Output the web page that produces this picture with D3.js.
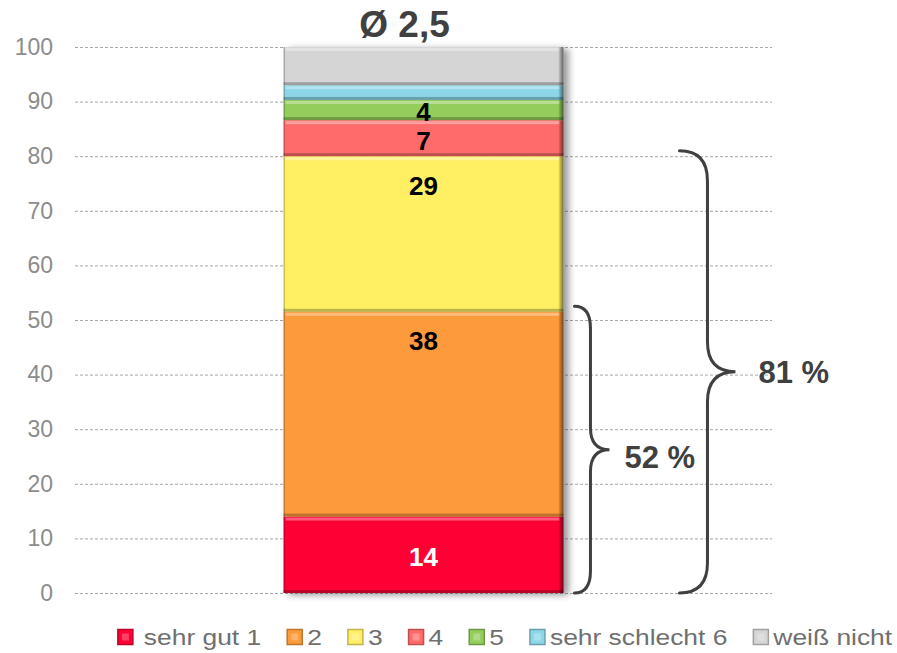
<!DOCTYPE html>
<html>
<head>
<meta charset="utf-8">
<script src="https://cdn.jsdelivr.net/npm/d3@7"></script>
<style>
  html, body { margin: 0; padding: 0; background: #fff; }
  svg { display: block; font-family: "Liberation Sans", Arial, sans-serif; }
</style>
</head>
<body>
<div id="chart"></div>
<script>
// Values (percent); labels shown only for the first five
const categories = ["sehr gut 1", "2", "3", "4", "5", "sehr schlecht 6", "weiß nicht"];
const values = [14, 37.5, 28.5, 6.6, 3.7, 2.7, 7.0];
const showLabel = [true, true, true, true, true, false, false];
const colors = ["#ff0035", "#fd9a3a", "#fff064", "#ff6b6b", "#94cd5c", "#8dd6e8", "#d5d5d5"];
const yTicks = [0, 10, 20, 30, 40, 50, 60, 70, 80, 90, 100];
const title = "Ø 2,5";
// Braces: range [from, to] and caption
const braces = [
  { from: 0, to: 52.5, label: "52 %" },
  { from: 0, to: 81, label: "81 %" }
];

const width = 897, height = 653;
const svg = d3.select("#chart").append("svg")
  .attr("width", width)
  .attr("height", height);

const defs = svg.append("defs");
const shadow = defs.append("filter").attr("id", "shadow")
  .attr("x", "-10%").attr("y", "-10%").attr("width", "130%").attr("height", "125%");
shadow.append("feDropShadow")
  .attr("dx", 5).attr("dy", 2).attr("stdDeviation", 3.5)
  .attr("flood-color", "#000").attr("flood-opacity", 0.4);

// right edge darkening
const edge = defs.append("linearGradient").attr("id", "edgeR").attr("x1", 0).attr("x2", 1);
edge.append("stop").attr("offset", 0).attr("stop-color", "#000").attr("stop-opacity", 0.05);
edge.append("stop").attr("offset", 1).attr("stop-color", "#000").attr("stop-opacity", 0.55);

const y = d3.scaleLinear().domain([0, 100]).range([593, 47]);
const x = d3.scaleBand().domain(["all"]).range([75, 772])
  .paddingInner(0).paddingOuter(0.745);

// Gridlines (dotted)
svg.append("g")
  .selectAll("line")
  .data(yTicks)
  .join("line")
  .attr("x1", 75).attr("x2", 772)
  .attr("y1", d => y(d) + 0.5).attr("y2", d => y(d) + 0.5)
  .attr("stroke", "#a6a6a6")
  .attr("stroke-width", 1)
  .attr("stroke-dasharray", "3,2");

// Y axis labels
const yAxis = svg.append("g")
  .attr("transform", "translate(53,0)")
  .call(d3.axisLeft(y).tickValues(yTicks).tickSize(0).tickPadding(0));
yAxis.select(".domain").remove();
yAxis.selectAll("text")
  .style("font-size", "23px")
  .style("font-family", "'Liberation Sans', Arial, sans-serif")
  .attr("fill", "#8c8c8c");

// Stack
let acc = 0;
const segs = values.map((v, i) => {
  const s = { cat: categories[i], v, y0: acc, y1: acc + v, color: colors[i], label: showLabel[i] };
  acc += v;
  return s;
});

const bx = x("all"), bw = x.bandwidth();
const bar = svg.append("g").attr("filter", "url(#shadow)");
const seg = bar.selectAll("g.seg").data(segs).join("g").attr("class", "seg");

seg.append("rect")
  .attr("x", bx)
  .attr("y", d => y(d.y1))
  .attr("width", bw)
  .attr("height", d => y(d.y0) - y(d.y1))
  .attr("fill", d => d.color);
// top highlight
seg.append("rect")
  .attr("x", bx + 2)
  .attr("y", d => y(d.y1) + 1)
  .attr("width", bw - 6)
  .attr("height", 3)
  .attr("fill", "#fff").attr("opacity", 0.35);
// bottom shade
seg.append("rect")
  .attr("x", bx)
  .attr("y", d => y(d.y0) - 3)
  .attr("width", bw)
  .attr("height", 3)
  .attr("fill", "#000").attr("opacity", 0.25);
// right bevel
seg.append("rect")
  .attr("x", bx + bw - 5)
  .attr("y", d => y(d.y1))
  .attr("width", 5)
  .attr("height", d => y(d.y0) - y(d.y1))
  .attr("fill", "url(#edgeR)");
// left edge
seg.append("rect")
  .attr("x", bx)
  .attr("y", d => y(d.y1))
  .attr("width", 1.5)
  .attr("height", d => y(d.y0) - y(d.y1))
  .attr("fill", "#000").attr("opacity", 0.2);

// Value labels: centred in short segments, near the top of tall ones
svg.append("g")
  .selectAll("text")
  .data(segs.filter(d => d.label))
  .join("text")
  .attr("x", bx + bw / 2)
  .attr("y", d => {
    const top = y(d.y1), bot = y(d.y0);
    return (bot - top) < 100 ? (top + bot) / 2 + 2 : top + 29;
  })
  .attr("dy", "0.36em")
  .attr("text-anchor", "middle")
  .style("font-size", "26px")
  .style("font-weight", "bold")
  .attr("fill", (d, i) => i === 0 ? "#fff" : "#000")
  .text(d => Math.round(d.v));

// Title
svg.append("text")
  .attr("x", bx + bw / 2 - 19)
  .attr("y", 37)
  .attr("text-anchor", "middle")
  .style("font-size", "37px")
  .style("font-weight", "bold")
  .attr("fill", "#404040")
  .text(title);

// Curly braces
function bracePath(x0, x1, x2, yTop, yBot, r) {
  const mid = (yTop + yBot) / 2;
  return `M${x0},${yTop} Q${x1},${yTop} ${x1},${yTop + r} L${x1},${mid - r} ` +
    `Q${x1},${mid} ${x2},${mid} Q${x1},${mid} ${x1},${mid + r} ` +
    `L${x1},${yBot - r} Q${x1},${yBot} ${x0},${yBot}`;
}
const braceGeo = [
  { x0: bx + bw + 11, x1: bx + bw + 27, x2: bx + bw + 46, r: 22, tx: bx + bw + 61 },
  { x0: bx + bw + 116, x1: bx + bw + 144, x2: bx + bw + 172, r: 30, tx: bx + bw + 195 }
];
braces.forEach((b, i) => {
  const g = braceGeo[i];
  const yTop = y(b.to), yBot = y(b.from);
  svg.append("path")
    .attr("d", bracePath(g.x0, g.x1, g.x2, yTop, yBot, g.r))
    .attr("fill", "none")
    .attr("stroke", "#404040")
    .attr("stroke-width", 3)
    .attr("stroke-linecap", "round");
  svg.append("text")
    .attr("x", g.tx)
    .attr("y", (yTop + yBot) / 2 + (i === 0 ? 7 : 0))
    .attr("dy", "0.36em")
    .style("font-size", "31px")
    .style("font-weight", "bold")
    .attr("fill", "#404040")
    .text(b.label);
});

// Legend
const legend = svg.append("g").attr("transform", "translate(0,637)");
const sq = 15, stretch = 1.2;
const items = legend.selectAll("g").data(categories).join("g");
items.append("rect")
  .attr("width", sq).attr("height", sq)
  .attr("y", -sq / 2)
  .attr("fill", (d, i) => colors[i])
  .attr("stroke", (d, i) => d3.color(colors[i]).darker(0.8))
  .attr("stroke-width", 1.5);
items.append("rect")
  .attr("x", 4).attr("y", -sq / 2 + 4)
  .attr("width", sq - 8).attr("height", sq - 8)
  .attr("fill", "#fff").attr("opacity", 0.25);
items.append("text")
  .attr("transform", (d, i) => `translate(${sq + (i === 0 ? 11 : 5)},0) scale(${stretch},1)`)
  .attr("dy", "0.36em")
  .style("font-size", "22px")
  .attr("fill", "#6f6f6f")
  .text(d => d);

let lx = 0;
const gap = 26;
const offs = [];
items.each(function (d, i) {
  const t = d3.select(this).select("text").node();
  offs.push(lx);
  lx += sq + (i === 0 ? 11 : 5) + t.getComputedTextLength() * stretch + gap;
});
const total = lx - gap;
const start = 505 - total / 2;
items.attr("transform", (d, i) => `translate(${start + offs[i]},0)`);
</script>
</body>
</html>
